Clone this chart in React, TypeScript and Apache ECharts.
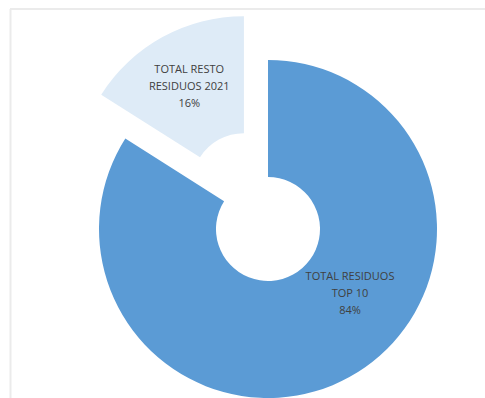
import React, { useEffect, useRef } from "react";
import * as echarts from "echarts";

const categories = ["TOTAL RESIDUOS\nTOP 10", "TOTAL RESTO\nRESIDUOS 2021"];
const values = [84, 16];
const colors = ["#5B9BD5", "#DEEBF7"];
const explodedIndex = 1;

export default function App() {
  const ref = useRef<HTMLDivElement>(null);
  useEffect(() => {
    document.body.style.margin = "0";
    const chart = echarts.init(ref.current!, null, { renderer: "svg" });
    chart.setOption({
      animation: false,
      backgroundColor: "#ffffff",
      graphic: [
        { type: "line", shape: { x1: 10, y1: 9, x2: 485, y2: 9 }, style: { stroke: "#ebebeb", lineWidth: 2 }, silent: true },
        { type: "line", shape: { x1: 10.5, y1: 9, x2: 10.5, y2: 398 }, style: { stroke: "#ebebeb", lineWidth: 2 }, silent: true },
      ],
      series: [
        {
          type: "pie",
          center: [268, 229],
          radius: [52, 169],
          startAngle: 90,
          clockwise: true,
          selectedMode: "single",
          selectedOffset: 50,
          avoidLabelOverlap: false,
          emphasis: { disabled: true },
          select: { itemStyle: { color: colors[explodedIndex] } },
          label: {
            show: true,
            position: "inside",
            formatter: (p: any) => `${p.name}\n${p.value}%`,
            color: "#404040",
            fontFamily: "Open Sans",
            fontSize: 11,
            lineHeight: 17,
            align: "center",
          },
          labelLine: { show: false },
          labelLayout: (params: any) => {
            if (params.dataIndex === 0) {
              return { x: 350, y: 292, align: "center", verticalAlign: "middle" };
            }
            return {};
          },
          data: categories.map((c, i) => ({
            name: c,
            value: values[i],
            selected: i === explodedIndex,
            itemStyle: { color: colors[i], borderWidth: 0 },
          })),
        },
      ],
    });
    return () => chart.dispose();
  }, []);
  return <div ref={ref} style={{ width: 485, height: 398 }} />;
}
